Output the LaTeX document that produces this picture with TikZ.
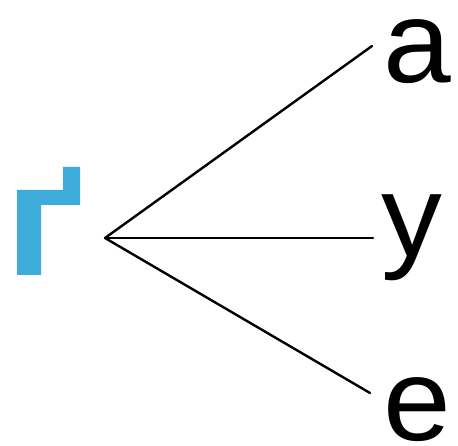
\documentclass[tikz,border=0pt]{standalone}
\usepackage{fontspec}
\setmainfont{Liberation Sans}
\usetikzlibrary{positioning}
\definecolor{rootblue}{RGB}{62,172,218}
\tikzset{
  leaf/.style={anchor=base west, inner sep=0pt, font=\fontsize{117}{117}\selectfont, xscale=1.04},
  branch/.style={line width=2.4pt, line cap=round},
  rootglyph/.style={fill=rootblue},
}

\begin{document}
\begin{tikzpicture}[x=1pt, y=-1pt]
\useasboundingbox (0,0) rectangle (458,446);

% blue root sign
\fill[rootglyph] (17,275) -- (17,190) -- (63,190) -- (63,167) -- (80,167)
  -- (80,205) -- (41,205) -- (41,275) -- cycle;

\coordinate (root) at (105,238);
\coordinate (tipa) at (372,46);
\coordinate (tipy) at (373,238);
\coordinate (tipe) at (370,393);

\node[leaf] (a) at (383,83) {a};
\node[leaf] (y) at (381,257) {y};
\node[leaf] (e) at (383,440) {e};

\draw[branch] (root) -- (tipa);
\draw[branch] (root) -- (tipy);
\draw[branch] (root) -- (tipe);

\end{tikzpicture}
\end{document}
